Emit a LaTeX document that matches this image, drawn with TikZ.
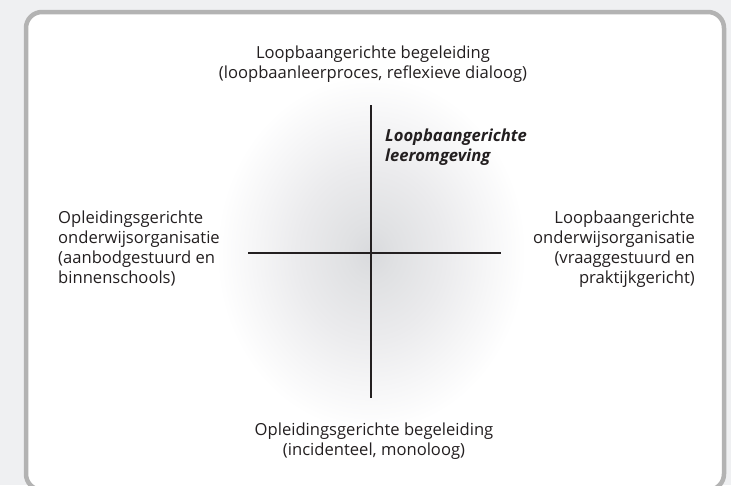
\documentclass[tikz,border=0pt]{standalone}
\usepackage{fontspec}
\setmainfont{Open Sans}
\definecolor{bgout}{RGB}{239,240,242}
\definecolor{framegray}{RGB}{179,179,179}
\definecolor{ink}{RGB}{35,31,32}
\definecolor{g0}{RGB}{217,218,221}
\definecolor{g1}{RGB}{224,225,227}
\definecolor{g2}{RGB}{235,235,237}
\definecolor{g3}{RGB}{246,246,247}
\pgfdeclareradialshading{glow}{\pgfpoint{0bp}{0bp}}{%
  color(0bp)=(g0); color(4bp)=(g1); color(12bp)=(g2); color(19bp)=(g3); color(25bp)=(white); color(50bp)=(white)}
\tikzset{
  lbl/.style={inner sep=0pt, text=ink, font=\fontsize{16.6}{20}\selectfont},
  axis/.style={draw=ink, line width=1.3pt},
}
\begin{document}
\begin{tikzpicture}[x=1pt,y=-1pt]
\useasboundingbox (0,0) rectangle (731,485);
\fill[bgout] (0,0) rectangle (731,485);
\draw[draw=framegray, fill=white, line width=4.5pt, rounded corners=16pt] (26,12) rectangle (724,490);
\shade[shading=glow] (371,253) ellipse [x radius=155, y radius=178];
\coordinate (vt) at (371,105);
\coordinate (vb) at (371,398);
\coordinate (hl) at (248,253);
\coordinate (hr) at (501,253);
\draw[axis] (vt) -- (vb);
\draw[axis] (hl) -- (hr);
\node[lbl, anchor=base, align=center] (top) at (373,78) {Loopbaangerichte begeleiding\\(loopbaanleerproces, reflexieve dialoog)};
\node[lbl, anchor=base west, align=left, font=\fontsize{16.6}{20}\selectfont\bfseries\itshape] (env) at (385,161) {Loopbaangerichte\\leeromgeving};
\node[lbl, anchor=base west, align=left] (left) at (58,283) {Opleidingsgerichte\\onderwijsorganisatie\\(aanbodgestuurd en\\binnenschools)};
\node[lbl, anchor=base east, align=right] (right) at (695,283) {Loopbaangerichte\\onderwijsorganisatie\\(vraaggestuurd en\\praktijkgericht)};
\node[lbl, anchor=base, align=center] (bottom) at (374,455) {Opleidingsgerichte begeleiding\\(incidenteel, monoloog)};
\end{tikzpicture}
\end{document}
